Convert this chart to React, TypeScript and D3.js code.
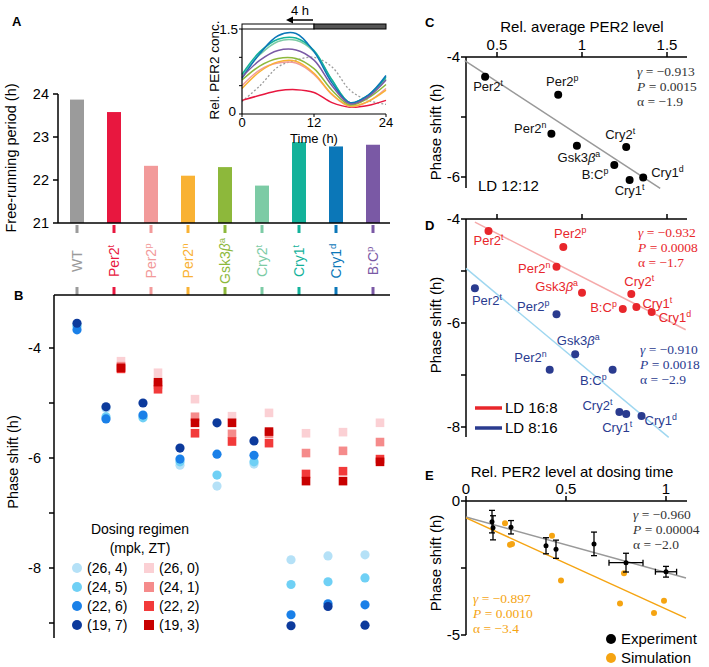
import React from "react";
import * as d3 from "d3";

const SANS = "'Liberation Sans', Arial, Helvetica, sans-serif";
const SERIF = "'Liberation Serif', 'DejaVu Serif', serif";

// genotypes: columns of panels A and B
const genoBase = ["WT", "Per2", "Per2", "Per2", "Gsk3β", "Cry2", "Cry1", "Cry1", "B:C"];
const genoSup = ["", "t", "p", "n", "a", "t", "t", "d", "p"];
const genoColor = ["#9b9b9b", "#e8173f", "#f29a9a", "#f9b234", "#8db83b", "#7ccba5", "#13b29a", "#0b77b8", "#7a59a5"];

// A: free-running period (h)
const periods = [23.87, 23.58, 22.33, 22.1, 22.3, 21.87, 22.88, 22.78, 22.82];

// A inset: relative PER2 concentration over the day
const insetTime = [0, 3, 6, 9, 12, 15, 18, 21, 24];
const per2WT = [0.22, 0.5, 0.83, 0.95, 1.0, 0.83, 0.42, 0.24, 0.17];
const per2Per2t = [0.24, 0.33, 0.41, 0.43, 0.38, 0.2, 0.12, 0.15, 0.24];
const per2Per2p = [0.5, 0.78, 0.9, 0.9, 0.7, 0.34, 0.13, 0.22, 0.45];
const per2Per2n = [0.45, 0.75, 0.92, 0.93, 0.72, 0.35, 0.14, 0.22, 0.42];
const per2Gsk = [0.6, 0.85, 0.98, 0.98, 0.8, 0.42, 0.16, 0.28, 0.52];
const per2Cry2t = [0.68, 1.05, 1.28, 1.3, 1.1, 0.6, 0.2, 0.32, 0.62];
const per2Cry1t = [0.7, 1.1, 1.32, 1.34, 1.12, 0.6, 0.2, 0.33, 0.65];
const per2Cry1d = [0.63, 1.07, 1.38, 1.42, 1.1, 0.55, 0.2, 0.33, 0.68];
const per2BC = [0.65, 0.95, 1.12, 1.13, 0.95, 0.5, 0.18, 0.3, 0.6];
const insetCurves = [per2WT, per2Per2t, per2Per2p, per2Per2n, per2Gsk, per2Cry2t, per2Cry1t, per2Cry1d, per2BC];

// B: phase shift per dosing regimen (mpk, ZT)
const shift26_4 = [-3.6, -5.1, -5.25, -6.13, -6.51, -6.11, -7.85, -7.78, -7.76];
const shift24_5 = [-3.6, -5.25, -5.27, -6.07, -6.31, -6.07, -8.3, -8.25, -8.18];
const shift22_6 = [-3.67, -5.29, -5.22, -6.02, -5.93, -5.95, -8.85, -8.65, -8.67];
const shift19_7 = [-3.55, -5.07, -5.0, -5.82, -5.36, -5.69, -9.05, -8.7, -9.04];
const shift26_0 = [null, -4.24, -4.45, -4.93, -5.24, -5.18, -5.55, -5.53, -5.36];
const shift24_1 = [null, -4.33, -4.67, -5.25, -5.56, -5.56, -5.91, -5.87, -5.71];
const shift22_2 = [null, -4.38, -4.75, -5.55, -5.7, -5.73, -6.29, -6.24, -6.02];
const shift19_3 = [null, -4.36, -4.62, -5.36, -5.36, -5.52, -6.42, -6.42, -6.07];
const circleSeries = [shift26_4, shift24_5, shift22_6, shift19_7];
const squareSeries = [shift26_0, shift24_1, shift22_2, shift19_3];
const circleLabels = ["(26, 4)", "(24, 5)", "(22, 6)", "(19, 7)"];
const squareLabels = ["(26, 0)", "(24, 1)", "(22, 2)", "(19, 3)"];
const circleColors = ["#b5e1f7", "#6fd0f5", "#1a80e8", "#0c3a9c"];
const squareColors = ["#fbd0d4", "#f58b8b", "#f23a3a", "#c80000"];

// C, D: genotype order Per2t, Per2p, Per2n, Gsk3βa, Cry2t, Cry1t, Cry1d, B:Cp
const cdGeno = [1, 2, 3, 4, 5, 6, 7, 8];
const cLevel = [0.43, 0.86, 0.82, 0.97, 1.26, 1.28, 1.36, 1.19];
const cShift = [-4.33, -4.63, -5.28, -5.48, -5.5, -6.05, -6.01, -5.8];
const cFit = [[0.31, -4.06], [1.46, -6.19]];
const dLongLevel = [0.45, 0.89, 0.85, 1.0, 1.29, 1.32, 1.41, 1.24];
const dLongShift = [-4.23, -4.54, -4.92, -5.42, -5.44, -5.69, -5.79, -5.73];
const dLongFit = [[0.37, -4.06], [1.61, -6.13]];
const dShortLevel = [0.37, 0.85, 0.81, 0.96, 1.22, 1.26, 1.35, 1.18];
const dShortShift = [-5.33, -5.83, -6.9, -6.6, -7.71, -7.75, -7.79, -6.9];
const dShortFit = [[0.318, -4.95], [1.51, -8.2]];

// E: PER2 level at dosing time vs phase shift
const expLevel = [0.13, 0.135, 0.225, 0.4, 0.45, 0.64, 0.8, 1.0];
const expShift = [-0.77, -1.0, -0.98, -1.67, -1.8, -1.6, -2.3, -2.64];
const expErrY = [0.42, 0.45, 0.25, 0.3, 0.34, 0.44, 0.35, 0.2];
const expErrX = [0, 0, 0, 0, 0, 0, 0.085, 0.053];
const simLevel = [0.195, 0.22, 0.23, 0.43, 0.475, 0.79, 0.77, 0.99, 0.94];
const simShift = [-0.83, -1.63, -1.6, -1.3, -2.97, -2.7, -3.82, -3.72, -4.18];
const eExpFit = [[0, -0.6], [1.1, -2.87]];
const eSimFit = [[0, -0.63], [1.1, -4.37]];

// label placement (anchor, dx, dy) for C and D
const cLabelPos = [["middle", 3, 14], ["middle", 4, -9], ["end", -5, -1], ["middle", 2, 16], ["middle", -6, -8], ["middle", 0, 15], ["start", 8, -1], ["end", -6, 14]];
const dLongLabelPos = [["middle", 0, 14], ["middle", 7, -9], ["end", -6, 6], ["end", -4, -2], ["middle", 8, -8], ["start", 6, 1], ["start", 7, 10], ["end", -6, 3]];
const dShortLabelPos = [["middle", 12, 17], ["end", -7, -3], ["end", -3, -8], ["middle", 3, -9], ["end", -7, -2], ["middle", -9, 18], ["start", 3, 9], ["end", -6, 15]];

const RED = "#e8262b";
const NAVY = "#2a3b8f";
const ORANGE = "#f5a412";

function GenoName({ i, x = 0, y = 0, anchor = "middle", fill = "#000", size = 13, transform }: any) {
  const base = genoBase[i];
  const body = base.includes("β")
    ? [<tspan key="g">Gsk3</tspan>, <tspan key="b" fontStyle="italic">β</tspan>]
    : base;
  return (
    <text x={x} y={y} textAnchor={anchor} fill={fill} fontSize={size} transform={transform}>
      {body}
      {genoSup[i] ? <tspan dy={-size * 0.38} fontSize={size * 0.68}>{genoSup[i]}</tspan> : null}
    </text>
  );
}

function Stats({ x, y, fill, g, p, a }: any) {
  return (
    <g fontFamily={SERIF} fontSize={13.5} fill={fill}>
      <text x={x} y={y}><tspan fontStyle="italic">γ</tspan> = −{g}</text>
      <text x={x} y={y + 15}><tspan fontStyle="italic">P</tspan> = {p}</text>
      <text x={x} y={y + 30}>α = −{a}</text>
    </g>
  );
}

function PanelA() {
  const x = d3.scalePoint<number>().domain(d3.range(9)).range([77, 373]);
  const y = d3.scaleLinear().domain([21, 24]).range([223, 94]);
  const xi = d3.scaleLinear().domain([0, 24]).range([242, 386]);
  const yi = d3.scaleLinear().domain([0, 1.5]).range([114, 29]);
  const line = d3.line<number>().x((_, k) => xi(insetTime[k])).y((d) => yi(d)).curve(d3.curveCatmullRom);
  return (
    <g>
      <text x={12} y={26} fontSize={13} fontWeight="bold">A</text>
      {/* bars */}
      {periods.map((v, i) => (
        <rect key={i} x={x(i)! - 7} width={14} y={y(v)} height={y(21) - y(v)} fill={genoColor[i]} />
      ))}
      <line x1={58} x2={58} y1={94} y2={223} stroke="#000" strokeWidth={1.5} />
      <line x1={58} x2={390} y1={223} y2={223} stroke="#000" strokeWidth={1.5} />
      {y.ticks(3).map((t) => (
        <g key={t}>
          <line x1={53} x2={58} y1={y(t)} y2={y(t)} stroke="#000" strokeWidth={1.5} />
          <text x={49} y={y(t) + 5} textAnchor="end" fontSize={14.5}>{t}</text>
        </g>
      ))}
      <text transform="translate(16,158) rotate(-90)" textAnchor="middle" fontSize={14.5}>Free-running period (h)</text>
      {periods.map((_, i) => (
        <g key={i}>
          <line x1={x(i)} x2={x(i)} y1={225} y2={233} stroke={genoColor[i]} strokeWidth={3} />
          <line x1={x(i)} x2={x(i)} y1={287} y2={295} stroke={genoColor[i]} strokeWidth={3} />
          <GenoName i={i} size={14} fill={genoColor[i]} transform={`translate(${x(i)! + 5},261) rotate(-90)`} />
        </g>
      ))}
      {/* inset */}
      <rect x={242} y={24} width={72} height={5} fill="#fff" stroke="#000" strokeWidth={1} />
      <rect x={314} y={24} width={72} height={5} fill="#555" stroke="#000" strokeWidth={1} />
      <line x1={313} x2={290} y1={20} y2={20} stroke="#000" strokeWidth={1.5} />
      <path d="M286,20 L293,16.5 L293,23.5 Z" fill="#000" />
      <text x={300} y={15} textAnchor="middle" fontSize={13}>4 h</text>
      {insetCurves.map((c, i) => (
        <path key={i} d={line(c)!} fill="none" stroke={genoColor[i]}
          strokeWidth={i === 0 ? 1.3 : 1.5} strokeDasharray={i === 0 ? "2,2" : undefined} />
      ))}
      <line x1={242} x2={242} y1={29} y2={114} stroke="#000" strokeWidth={1.2} />
      <line x1={242} x2={386} y1={114} y2={114} stroke="#000" strokeWidth={1.2} />
      {[0, 0.5, 1, 1.5].map((t) => (
        <line key={t} x1={239} x2={242} y1={yi(t)} y2={yi(t)} stroke="#000" />
      ))}
      <text x={238} y={34} textAnchor="end" fontSize={13.5}>1.5</text>
      <text x={236} y={116} textAnchor="end" fontSize={13.5}>0</text>
      {[0, 12, 24].map((t) => (
        <g key={t}>
          <line x1={xi(t)} x2={xi(t)} y1={114} y2={117} stroke="#000" />
          <text x={xi(t)} y={127} textAnchor="middle" fontSize={13}>{t}</text>
        </g>
      ))}
      <text x={314} y={143} textAnchor="middle" fontSize={13}>Time (h)</text>
      <text transform="translate(219,70) rotate(-90)" textAnchor="middle" fontSize={13.5}>Rel. PER2 conc.</text>
    </g>
  );
}

function PanelB() {
  const x = d3.scalePoint<number>().domain(d3.range(9)).range([77, 373]);
  const y = d3.scaleLinear().domain([-4, -8]).range([348, 568]);
  const cx = (i: number) => x(i)! + (i === 0 ? 0 : -8);
  const sx = (i: number) => x(i)! + 7;
  return (
    <g>
      <text x={14} y={300} fontSize={13} fontWeight="bold">B</text>
      <line x1={54} x2={390} y1={295} y2={295} stroke="#000" strokeWidth={1.5} />
      <line x1={54} x2={54} y1={295} y2={638} stroke="#000" strokeWidth={1.5} />
      {d3.range(-4, -10, -1).map((t) => (
        <g key={t}>
          <line x1={49} x2={54} y1={y(t)} y2={y(t)} stroke="#000" strokeWidth={1.5} />
          {t % 2 === 0 ? <text x={41} y={y(t) + 5} textAnchor="end" fontSize={14.5}>{t}</text> : null}
        </g>
      ))}
      <text transform="translate(18,462) rotate(-90)" textAnchor="middle" fontSize={14.5}>Phase shift (h)</text>
      {circleSeries.map((s, r) => s.map((v, i) => (
        <circle key={`c${r}-${i}`} cx={cx(i)} cy={y(v)} r={4.6} fill={circleColors[r]} />
      )))}
      {squareSeries.map((s, r) => s.map((v, i) => v === null ? null : (
        <rect key={`s${r}-${i}`} x={sx(i) - 4.3} y={y(v) - 4.3} width={8.6} height={8.6} fill={squareColors[r]} />
      )))}
      {/* legend */}
      <text x={140} y={534} textAnchor="middle" fontSize={14}>Dosing regimen</text>
      <text x={140} y={553} textAnchor="middle" fontSize={14}>(mpk, ZT)</text>
      {circleLabels.map((l, r) => (
        <g key={r} fontSize={14}>
          <circle cx={77} cy={568 + r * 19} r={5} fill={circleColors[r]} />
          <text x={87} y={573 + r * 19}>{l}</text>
          <rect x={144} y={563 + r * 19} width={10} height={10} fill={squareColors[r]} />
          <text x={159} y={573 + r * 19}>{squareLabels[r]}</text>
        </g>
      ))}
    </g>
  );
}

function TopLeftAxes({ x, y, xt, yt, ylab, top, bottom, xlabels }: any) {
  return (
    <g>
      <line x1={466} x2={687} y1={top} y2={top} stroke="#000" strokeWidth={1.5} />
      <line x1={466} x2={466} y1={top} y2={bottom} stroke="#000" strokeWidth={1.5} />
      {xt.map((t: number) => (
        <g key={t}>
          <line x1={x(t)} x2={x(t)} y1={top - 5} y2={top} stroke="#000" strokeWidth={1.5} />
          {xlabels ? <text x={x(t)} y={top - 7} textAnchor="middle" fontSize={15}>{t}</text> : null}
        </g>
      ))}
      {yt.map((t: number) => (
        <g key={t}>
          <line x1={461} x2={466} y1={y(t)} y2={y(t)} stroke="#000" strokeWidth={1.5} />
          {ylab.includes(t) ? <text x={460} y={y(t) + 5} textAnchor="end" fontSize={15}>{t}</text> : null}
        </g>
      ))}
    </g>
  );
}

function Labels({ lv, sh, pos, x, y, fill }: any) {
  return (
    <g>
      {cdGeno.map((g, k) => (
        <GenoName key={k} i={g} x={x(lv[k]) + pos[k][1]} y={y(sh[k]) + pos[k][2]} anchor={pos[k][0]} fill={fill} size={13} />
      ))}
    </g>
  );
}

function PanelC() {
  const x = d3.scaleLinear().domain([0.5, 1.5]).range([497, 667]);
  const y = d3.scaleLinear().domain([-4, -6]).range([57, 177]);
  return (
    <g>
      <text x={425} y={27} fontSize={13} fontWeight="bold">C</text>
      <text x={582} y={32} textAnchor="middle" fontSize={15}>Rel. average PER2 level</text>
      <TopLeftAxes x={x} y={y} xt={[0.5, 1, 1.5]} yt={[-4, -5, -6]} ylab={[-4, -6]} top={57} bottom={188} xlabels />
      <text transform="translate(441,132) rotate(-90)" textAnchor="middle" fontSize={15}>Phase shift (h)</text>
      <line x1={x(cFit[0][0])} y1={y(cFit[0][1])} x2={x(cFit[1][0])} y2={y(cFit[1][1])} stroke="#999" strokeWidth={1.5} />
      {cLevel.map((v, k) => <circle key={k} cx={x(v)} cy={y(cShift[k])} r={4} fill="#000" />)}
      <Labels lv={cLevel} sh={cShift} pos={cLabelPos} x={x} y={y} fill="#111" />
      <Stats x={637} y={76} fill="#333" g="0.913" p="0.0015" a="1.9" />
      <text x={478} y={191} fontSize={15}>LD 12:12</text>
    </g>
  );
}

function PanelD() {
  const x = d3.scaleLinear().domain([0.5, 1.5]).range([497, 667]);
  const y = d3.scaleLinear().domain([-4, -8]).range([219, 427]);
  return (
    <g>
      <text x={425} y={230} fontSize={13} fontWeight="bold">D</text>
      <TopLeftAxes x={x} y={y} xt={[0.5, 1, 1.5]} yt={[-4, -5, -6, -7, -8]} ylab={[-4, -6, -8]} top={219} bottom={437} />
      <text transform="translate(441,325) rotate(-90)" textAnchor="middle" fontSize={15}>Phase shift (h)</text>
      <line x1={x(dLongFit[0][0])} y1={y(dLongFit[0][1])} x2={x(dLongFit[1][0])} y2={y(dLongFit[1][1])} stroke="#f5aaaa" strokeWidth={1.5} />
      <line x1={x(dShortFit[0][0])} y1={y(dShortFit[0][1])} x2={x(dShortFit[1][0])} y2={y(dShortFit[1][1])} stroke="#9fd7f0" strokeWidth={1.5} />
      {dLongLevel.map((v, k) => <circle key={`r${k}`} cx={x(v)} cy={y(dLongShift[k])} r={4} fill={RED} />)}
      {dShortLevel.map((v, k) => <circle key={`b${k}`} cx={x(v)} cy={y(dShortShift[k])} r={4} fill={NAVY} />)}
      <Labels lv={dLongLevel} sh={dLongShift} pos={dLongLabelPos} x={x} y={y} fill={RED} />
      <Labels lv={dShortLevel} sh={dShortShift} pos={dShortLabelPos} x={x} y={y} fill={NAVY} />
      <Stats x={638} y={237} fill={RED} g="0.932" p="0.0008" a="1.7" />
      <Stats x={640} y={354} fill={NAVY} g="0.910" p="0.0018" a="2.9" />
      <line x1={475} x2={502} y1={408} y2={408} stroke={RED} strokeWidth={3.5} />
      <text x={505} y={413} fontSize={15}>LD 16:8</text>
      <line x1={475} x2={502} y1={428} y2={428} stroke={NAVY} strokeWidth={3.5} />
      <text x={505} y={433} fontSize={15}>LD 8:16</text>
    </g>
  );
}

function PanelE() {
  const x = d3.scaleLinear().domain([0, 1]).range([466, 666]);
  const y = d3.scaleLinear().domain([0, -5]).range([501, 635]);
  return (
    <g>
      <text x={425} y={480} fontSize={13} fontWeight="bold">E</text>
      <text x={572} y={477} textAnchor="middle" fontSize={15}>Rel. PER2 level at dosing time</text>
      <TopLeftAxes x={x} y={y} xt={[0, 0.5, 1]} yt={[0, -2.5, -5]} ylab={[0, -5]} top={501} bottom={635} xlabels />
      <text transform="translate(441,563) rotate(-90)" textAnchor="middle" fontSize={15}>Phase shift (h)</text>
      <line x1={x(eExpFit[0][0])} y1={y(eExpFit[0][1])} x2={x(eExpFit[1][0])} y2={y(eExpFit[1][1])} stroke="#999" strokeWidth={1.5} />
      <line x1={x(eSimFit[0][0])} y1={y(eSimFit[0][1])} x2={x(eSimFit[1][0])} y2={y(eSimFit[1][1])} stroke={ORANGE} strokeWidth={1.5} />
      {simLevel.map((v, k) => <circle key={`s${k}`} cx={x(v)} cy={y(simShift[k])} r={3} fill={ORANGE} />)}
      {expLevel.map((v, k) => {
        const px = x(v), py = y(expShift[k]);
        const y0 = y(expShift[k] + expErrY[k]), y1 = y(expShift[k] - expErrY[k]);
        return (
          <g key={`e${k}`} stroke="#000" strokeWidth={1.3}>
            <line x1={px} x2={px} y1={y0} y2={y1} />
            <line x1={px - 3} x2={px + 3} y1={y0} y2={y0} />
            <line x1={px - 3} x2={px + 3} y1={y1} y2={y1} />
            {expErrX[k] > 0 ? (
              <g>
                <line x1={x(v - expErrX[k])} x2={x(v + expErrX[k])} y1={py} y2={py} />
                <line x1={x(v - expErrX[k])} x2={x(v - expErrX[k])} y1={py - 3} y2={py + 3} />
                <line x1={x(v + expErrX[k])} x2={x(v + expErrX[k])} y1={py - 3} y2={py + 3} />
              </g>
            ) : null}
            <circle cx={px} cy={py} r={2.5} fill="#000" stroke="none" />
          </g>
        );
      })}
      <Stats x={633} y={519} fill="#333" g="0.960" p="0.00004" a="2.0" />
      <Stats x={473} y={603} fill={ORANGE} g="0.897" p="0.0010" a="3.4" />
      <circle cx={611} cy={639} r={5} fill="#000" />
      <text x={621} y={644} fontSize={15}>Experiment</text>
      <circle cx={611} cy={658} r={5} fill={ORANGE} />
      <text x={621} y={663} fontSize={15}>Simulation</text>
    </g>
  );
}

export default function App() {
  return (
    <svg width={709} height={667} fontFamily={SANS}
      style={{ position: "absolute", left: 0, top: 0, background: "#fff" }}>
      <PanelA />
      <PanelB />
      <PanelC />
      <PanelD />
      <PanelE />
    </svg>
  );
}
